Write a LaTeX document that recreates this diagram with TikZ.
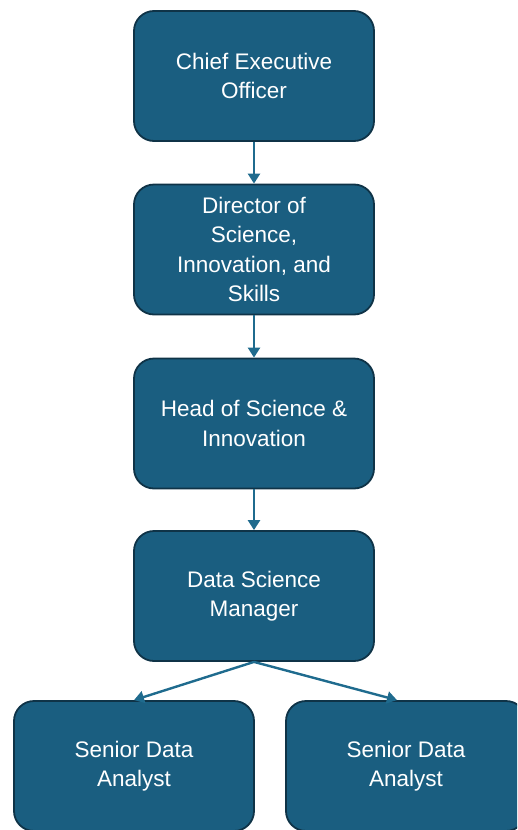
\documentclass[tikz,border=0pt]{standalone}
\usepackage{fontspec}
\setmainfont{Liberation Sans}
\usetikzlibrary{arrows.meta}
\definecolor{boxfill}{HTML}{1A5E80}
\definecolor{boxline}{HTML}{0F3347}
\definecolor{arrowc}{HTML}{1F6B8E}
\tikzset{
  rolebox/.style={draw=boxline, line width=1.8pt, fill=boxfill, rounded corners=20pt,
    minimum width=240pt, minimum height=130pt, text=white, align=center, inner sep=0pt,
    font=\fontsize{22.5}{29.5}\selectfont},
  link/.style={draw=arrowc, line width=2.4pt, -{Triangle[width=12pt,length=10pt]}}
}
\begin{document}
\begin{tikzpicture}[x=1pt,y=-1pt]
\useasboundingbox (0,0) rectangle (517,830);
\clip (0,0) rectangle (517,830);
\node[rolebox] (ceo) at (254,76) {Chief Executive\\Officer};
\node[rolebox] (dir) at (254,249.5) {Director of\\Science,\\Innovation, and\\Skills};
\node[rolebox] (head) at (254,423.5) {Head of Science \&\\Innovation};
\node[rolebox] (mgr) at (254,596) {Data Science\\Manager};
\node[rolebox] (sa1) at (134,766) {Senior Data\\Analyst};
\node[rolebox] (sa2) at (406,766) {Senior Data\\Analyst};
\draw[link] (ceo.south) -- (dir.north);
\draw[link] (dir.south) -- (head.north);
\draw[link] (head.south) -- (mgr.north);
\draw[link] (mgr.south) -- (sa1.north);
\draw[link] (mgr.south) -- ([xshift=-9pt]sa2.north);
\end{tikzpicture}
\end{document}
